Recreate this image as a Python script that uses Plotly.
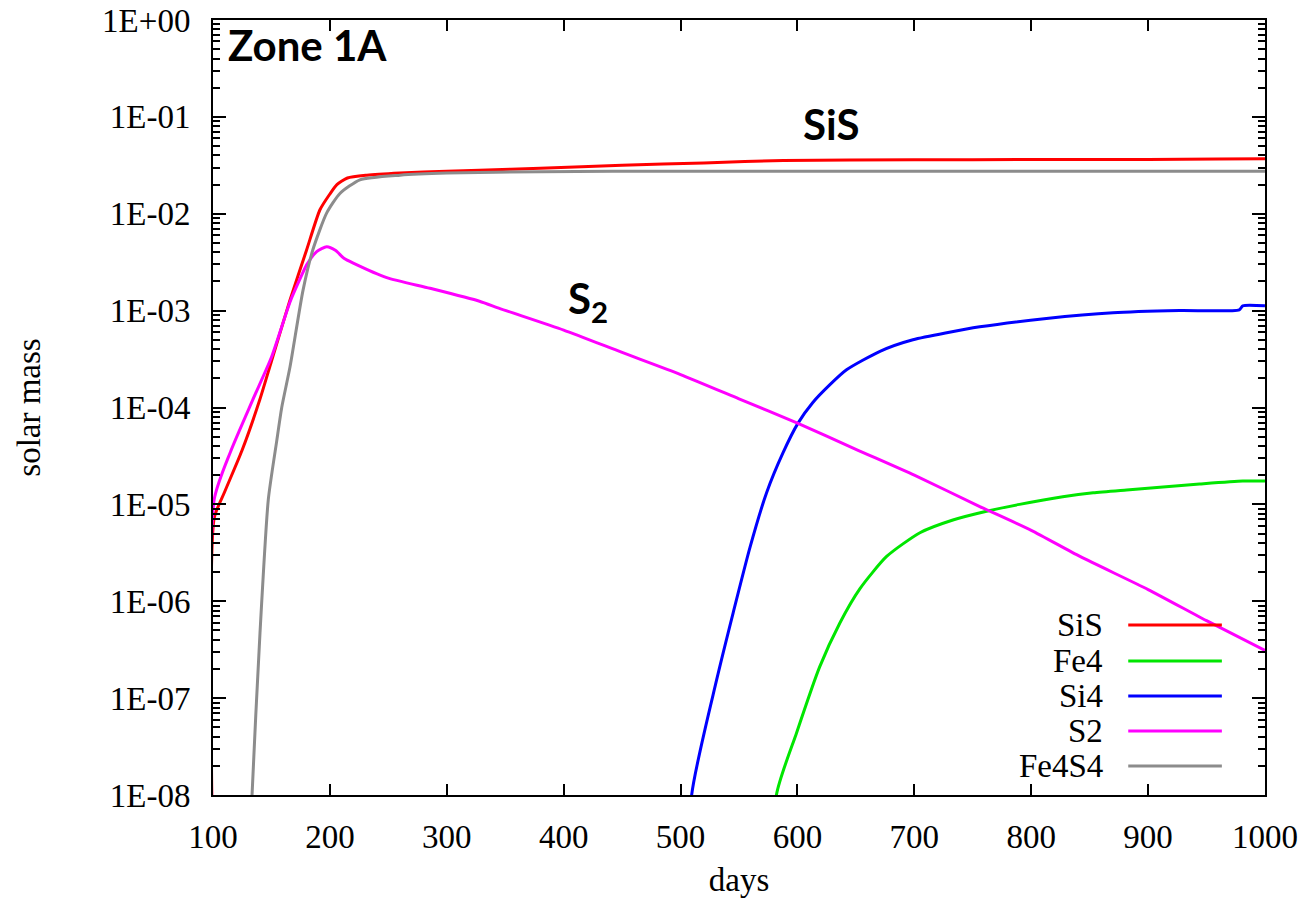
import plotly.graph_objects as go

# ---------------- data ----------------
sis_days = [100, 101, 110, 124.8, 140, 150, 165.9, 180, 191.5, 200, 206, 215, 231.7, 260, 300, 328,
            380, 450, 520, 588, 700, 800, 900, 960, 1000]
sis_mass = [1e-9, 7.2e-6, 1.35e-5, 3.6e-5, 1.2e-4, 3.0e-4, 1.29e-3, 4.2e-3, 1.1e-2, 1.6e-2, 2.0e-2,
            2.34e-2, 2.5e-2, 2.63e-2, 2.75e-2, 2.82e-2, 2.95e-2, 3.16e-2, 3.35e-2, 3.55e-2, 3.6e-2,
            3.63e-2, 3.63e-2, 3.67e-2, 3.69e-2]

fe4_days = [578, 582, 599.3, 619, 636.4, 653.5, 676.3, 704.8, 733, 761.8, 790, 827, 853, 881.6,
            912.7, 944, 981, 1000]
fe4_mass = [1e-10, 1e-8, 4.4e-8, 2.1e-7, 6.0e-7, 1.35e-6, 2.9e-6, 5.1e-6, 6.9e-6, 8.5e-6, 1.0e-5,
            1.2e-5, 1.32e-5, 1.41e-5, 1.51e-5, 1.62e-5, 1.74e-5, 1.74e-5]

si4_days = [505, 509.5, 530.9, 545, 559.4, 573.6, 587.6, 600.5, 613, 627.8, 642, 670.6, 698.8, 756,
            813, 870, 927, 978, 981, 1000]
si4_mass = [1e-10, 1e-8, 1.55e-7, 7.6e-7, 3.6e-6, 1.32e-5, 3.4e-5, 6.9e-5, 1.12e-4, 1.72e-4, 2.45e-4,
            3.8e-4, 5.0e-4, 6.8e-4, 8.3e-4, 9.5e-4, 1.0e-3, 1.02e-3, 1.12e-3, 1.12e-3]

s2_days = [100, 101, 115, 134, 150, 165.9, 175, 180, 188.7, 197.3, 205, 212, 220, 248.6, 285.6, 328,
           345.5, 400, 450, 500, 550, 600, 650, 700, 756, 800, 841.7, 900, 950, 1000]
s2_mass = [1e-9, 1.12e-5, 3.5e-5, 1.2e-4, 3.3e-4, 1.23e-3, 2.2e-3, 2.95e-3, 4.07e-3, 4.57e-3, 4.17e-3,
           3.47e-3, 3.09e-3, 2.19e-3, 1.7e-3, 1.25e-3, 1.05e-3, 6.3e-4, 3.7e-4, 2.19e-4, 1.23e-4,
           6.9e-5, 3.7e-5, 2.0e-5, 9.5e-6, 5.4e-6, 2.9e-6, 1.32e-6, 6.3e-7, 3.1e-7]

fe4s4_days = [128, 133.4, 140.2, 147.3, 154.5, 158.8, 165.9, 177, 185.5, 197.3, 208.6, 225.7, 260,
              300, 380, 500, 700, 1000]
fe4s4_mass = [1e-10, 1e-8, 4.7e-7, 1.12e-5, 4.5e-5, 1.0e-4, 2.63e-4, 1.62e-3, 4.27e-3, 1.02e-2,
              1.62e-2, 2.24e-2, 2.5e-2, 2.63e-2, 2.72e-2, 2.75e-2, 2.75e-2, 2.75e-2]

series_names = ["SiS", "Fe4", "Si4", "S2", "Fe4S4"]
series_colors = ["#ff0000", "#00e600", "#0000ff", "#ff00ff", "#8c8c8c"]

y_tick_vals = [1e-8, 1e-7, 1e-6, 1e-5, 1e-4, 1e-3, 1e-2, 1e-1, 1e0]
y_tick_text = ["1E-08", "1E-07", "1E-06", "1E-05", "1E-04", "1E-03", "1E-02", "1E-01", "1E+00"]
x_tick_vals = [100, 200, 300, 400, 500, 600, 700, 800, 900, 1000]

# ---------------- figure ----------------
all_days = [sis_days, fe4_days, si4_days, s2_days, fe4s4_days]
all_mass = [sis_mass, fe4_mass, si4_mass, s2_mass, fe4s4_mass]

fig = go.Figure()
for name, col, xs, ys in zip(series_names, series_colors, all_days, all_mass):
    fig.add_trace(go.Scatter(x=xs, y=ys, mode="lines", name=name,
                             line=dict(color=col, width=3, shape="spline", smoothing=0.6),
                             showlegend=False))

serif = "Liberation Serif, Times New Roman, serif"
minor_vals = [k * 10.0 ** e for e in range(-8, 0) for k in range(2, 10)]

fig.update_layout(
    width=1305, height=903,
    margin=dict(l=213, r=40, t=20, b=108),
    paper_bgcolor="white", plot_bgcolor="white",
    font=dict(family=serif, size=33, color="black"),
    xaxis=dict(
        range=[100, 1000], tickmode="array", tickvals=x_tick_vals,
        ticks="inside", ticklen=11, tickwidth=2, tickcolor="black",
        showline=True, linecolor="black", linewidth=2, mirror="ticks",
        showgrid=False, zeroline=False, ticklabelstandoff=11, automargin=False,
        title=dict(text="days", font=dict(family=serif, size=33), standoff=14),
        tickfont=dict(family=serif, size=33),
    ),
    yaxis=dict(
        type="log", range=[-8, 0], tickmode="array", tickvals=y_tick_vals, ticktext=y_tick_text,
        ticks="inside", ticklen=13, tickwidth=2, tickcolor="black",
        showline=True, linecolor="black", linewidth=2, mirror="ticks",
        showgrid=False, zeroline=False, ticklabelstandoff=14, automargin=False,
        minor=dict(tickmode="array", tickvals=minor_vals, ticks="inside", ticklen=7,
                   tickwidth=1.5, tickcolor="black", showgrid=False),
        title=dict(text="solar mass", font=dict(family=serif, size=33), standoff=52),
        tickfont=dict(family=serif, size=33),
    ),
)

bold = "Lato, Open Sans, sans-serif"
fig.add_annotation(text="Zone 1A", xref="paper", yref="paper", x=0.012, y=0.968,
                   xanchor="left", yanchor="middle", showarrow=False,
                   font=dict(family=bold, size=42, color="black", weight="bold"))
fig.add_annotation(text="SiS", xref="x", yref="y", x=629, y=-1.07,
                   xanchor="center", yanchor="middle", showarrow=False,
                   font=dict(family=bold, size=42, color="black", weight="bold"))
fig.add_annotation(text="S<sub>2</sub>", xref="x", yref="y", x=421, y=-2.9,
                   xanchor="center", yanchor="middle", showarrow=False,
                   font=dict(family=bold, size=42, color="black", weight="bold"))

# manual legend (text left, line sample right, like gnuplot)
legend_rows_y = [0.2194, 0.1729, 0.1277, 0.0826, 0.0374]
for name, col, yy in zip(series_names, series_colors, legend_rows_y):
    fig.add_annotation(text=name, xref="paper", yref="paper", x=0.848, y=yy,
                       xanchor="right", yanchor="middle", showarrow=False,
                       font=dict(family=serif, size=33, color="black"))
    fig.add_shape(type="line", xref="paper", yref="paper", x0=0.870, x1=0.959, y0=yy, y1=yy,
                  line=dict(color=col, width=3))

fig.write_html("out.html")
